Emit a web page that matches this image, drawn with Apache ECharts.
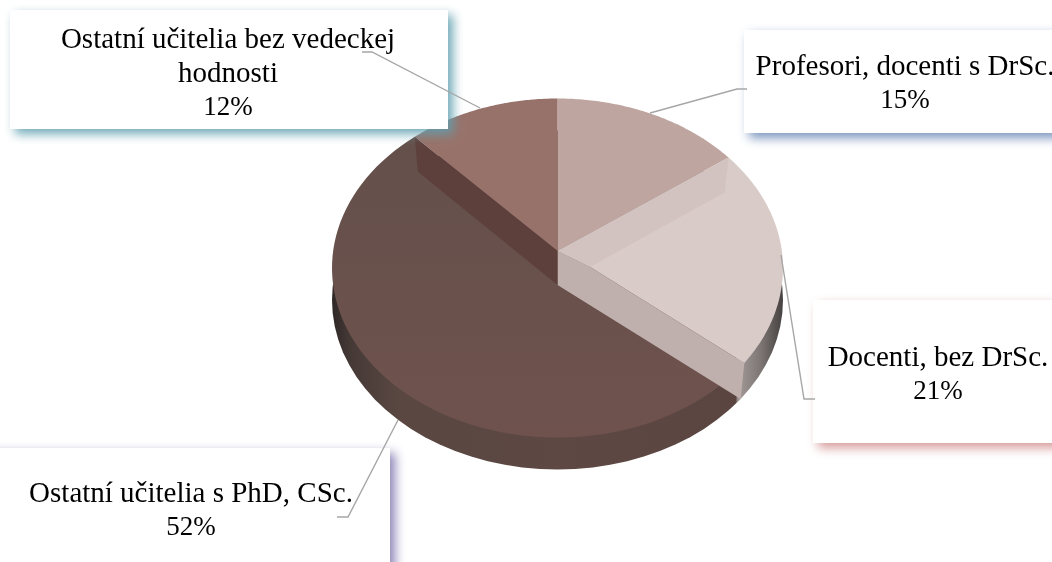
<!DOCTYPE html>
<html><head><meta charset="utf-8">
<style>html,body{margin:0;padding:0;background:#fff}#c{width:1052px;height:562px}</style>
<script src="https://cdn.jsdelivr.net/npm/echarts@6/dist/echarts.min.js"></script>
</head><body><div id="c"></div>
<script>
var categories = ["Profesori, docenti s DrSc.", "Docenti, bez DrSc.", "Ostatní učitelia s PhD, CSc.", "Ostatní učitelia bez vedeckej\nhodnosti"];
var shares = [15, 21, 52, 12];

// ---- layout (positions and styles only)
var E = {cx: 557.5, cy: 268, rx: 225.5, ry: 169.5, depth: 32};
var A = [557.5, 251], A2 = [557.5, 285], B = [590, 267];
var sliceColors = ["#bea5a0", "#d9cbc8", "#6b504b", "#97726a"];
var callouts = [
  {box: [744, 30, 340, 103], shadow: "rgba(100,130,180,0.85)", tx: 905, ty: 84, line: [[650,113],[737,89],[747,89]]},
  {box: [813, 300, 270, 143], shadow: "rgba(205,130,130,0.8)", tx: 938, ty: 375, line: [[781,255],[804,399],[815,399]]},
  {box: [-30, 448, 420, 150], shadow: "rgba(120,110,170,0.85)", tx: 191, ty: 511, line: [[398,420],[348,517],[337,517]]},
  {box: [10, 10, 438, 119], shadow: "rgba(95,160,175,0.9)", tx: 228, ty: 74, line: [[480,108],[372,52],[362,52]]}
];

// cumulative share of each slice boundary
var cum = [0];
shares.forEach(function (v) { cum.push(cum[cum.length - 1] + v); });
var total = cum[cum.length - 1];

// where a ray from apex o at the slice angle meets the rim (perspective-tilted pie)
function hit(o, c, shift) {
  var th = c / total * 2 * Math.PI, cy = E.cy + (shift || 0);
  var dx = Math.sin(th), dy = -Math.cos(th) * E.ry / E.rx;
  var px = (o[0] - E.cx) / E.rx, py = (o[1] - cy) / E.ry, qx = dx / E.rx, qy = dy / E.ry;
  var a = qx * qx + qy * qy, b = 2 * (px * qx + py * qy), d = px * px + py * py - 1;
  var t = (-b + Math.sqrt(b * b - 4 * a * d)) / (2 * a);
  return [o[0] + t * dx, o[1] + t * dy];
}
function phi(p) {
  var f = Math.atan2((p[0] - E.cx) / E.rx, -(p[1] - E.cy) / E.ry);
  return f < 0 ? f + 2 * Math.PI : f;
}
function arc(p1, p2, dy) {
  var a1 = phi(p1), a2 = phi(p2), pts = [], n = 80;
  if (a2 <= a1) a2 += 2 * Math.PI;
  for (var i = 0; i <= n; i++) {
    var f = a1 + (a2 - a1) * i / n;
    pts.push([E.cx + E.rx * Math.sin(f), E.cy - E.ry * Math.cos(f) + (dy || 0)]);
  }
  return pts;
}
function poly(points, fill, z2) {
  return {type: "polygon", z2: z2, shape: {points: points}, style: {fill: fill}, silent: true};
}
function grad(x, y, x2, y2, stops) {
  return new echarts.graphic.LinearGradient(x, y, x2, y2, stops);
}

function renderSlice(params, api) {
  var i = params.dataIndex, c0 = cum[i] , c1 = cum[i] + api.value(0), kids = [];
  if (i === 0) {
    var ell = arc([E.cx, E.cy - E.ry], [E.cx - 0.01, E.cy - E.ry], E.depth);
    kids.push(poly(ell, grad(0, 0, 1, 0, [
      {offset: 0, color: "#2f2826"}, {offset: 0.04, color: "#453936"}, {offset: 0.15, color: "#5a4742"},
      {offset: 0.5, color: "#5d4843"}, {offset: 0.895, color: "#5a4540"}, {offset: 0.9, color: "#a39a98"},
      {offset: 0.95, color: "#7d7674"}, {offset: 1, color: "#454140"}]), 1));
    kids.push(poly([A].concat(arc(hit(A, c0), hit(A, c1))), sliceColors[0], 2));
  } else if (i === 1) {
    var p0 = hit(A, c0), D = hit(B, c1), C = hit(A2, c1, E.depth);
    kids.push(poly([A].concat(arc(p0, D)).concat([B]), sliceColors[1], 2));
    kids.push(poly([A, p0, [p0[0] - 4, p0[1] + 35], B], "#d2c3c0", 3));
    kids.push(poly([A, B, D, C, A2], "#c0b0ad", 3));
  } else if (i === 2) {
    var s = hit(A2, c0), e = hit(A, c1);
    kids.push(poly([A2].concat(arc(s, e)), grad(0, 0, 0, 1, [
      {offset: 0, color: "#64504b"}, {offset: 1, color: "#6f524d"}]), 2));
    kids.push(poly([A, A2, [e[0] + 3, e[1] + 35], e], "#5d403c", 3));
  } else {
    kids.push(poly([A].concat(arc(hit(A, c0), hit(A, c1 - 0.001))), sliceColors[3], 2));
  }
  return {type: "group", children: kids};
}

function renderCallout(params, api) {
  var i = params.dataIndex, k = callouts[i], b = k.box;
  var label = categories[i].split("\n").map(function (t) { return "{n|" + t + "}"; }).join("\n") + "\n{p|" + api.value(0) + "%}";
  return {type: "group", children: [
    {type: "rect", z2: 1, shape: {x: b[0], y: b[1], width: b[2], height: b[3]},
     style: {fill: "#ffffff", shadowColor: k.shadow, shadowBlur: 10, shadowOffsetX: 5, shadowOffsetY: 5}, silent: true},
    {type: "polyline", z2: 2, shape: {points: k.line}, style: {fill: null, stroke: "#a6a6a6", lineWidth: 1.4}, silent: true},
    {type: "text", z2: 3, x: k.tx, y: k.ty, silent: true, style: {
      text: label, align: "center", verticalAlign: "middle", fill: "#000000",
      rich: {
        n: {fontFamily: "Liberation Serif", fontSize: 29, lineHeight: 33.5, fill: "#000000"},
        p: {fontFamily: "Liberation Serif", fontSize: 27, lineHeight: 33.5, fill: "#000000"}
      }}}
  ]};
}

var chart = echarts.init(document.getElementById("c"), null, {renderer: "canvas"});
chart.setOption({
  animation: false,
  backgroundColor: "#ffffff",
  series: [
    {type: "custom", coordinateSystem: "none", z: 2, data: shares, renderItem: renderSlice, silent: true},
    {type: "custom", coordinateSystem: "none", z: 3, data: shares, renderItem: renderCallout, silent: true}
  ]
});
</script></body></html>
